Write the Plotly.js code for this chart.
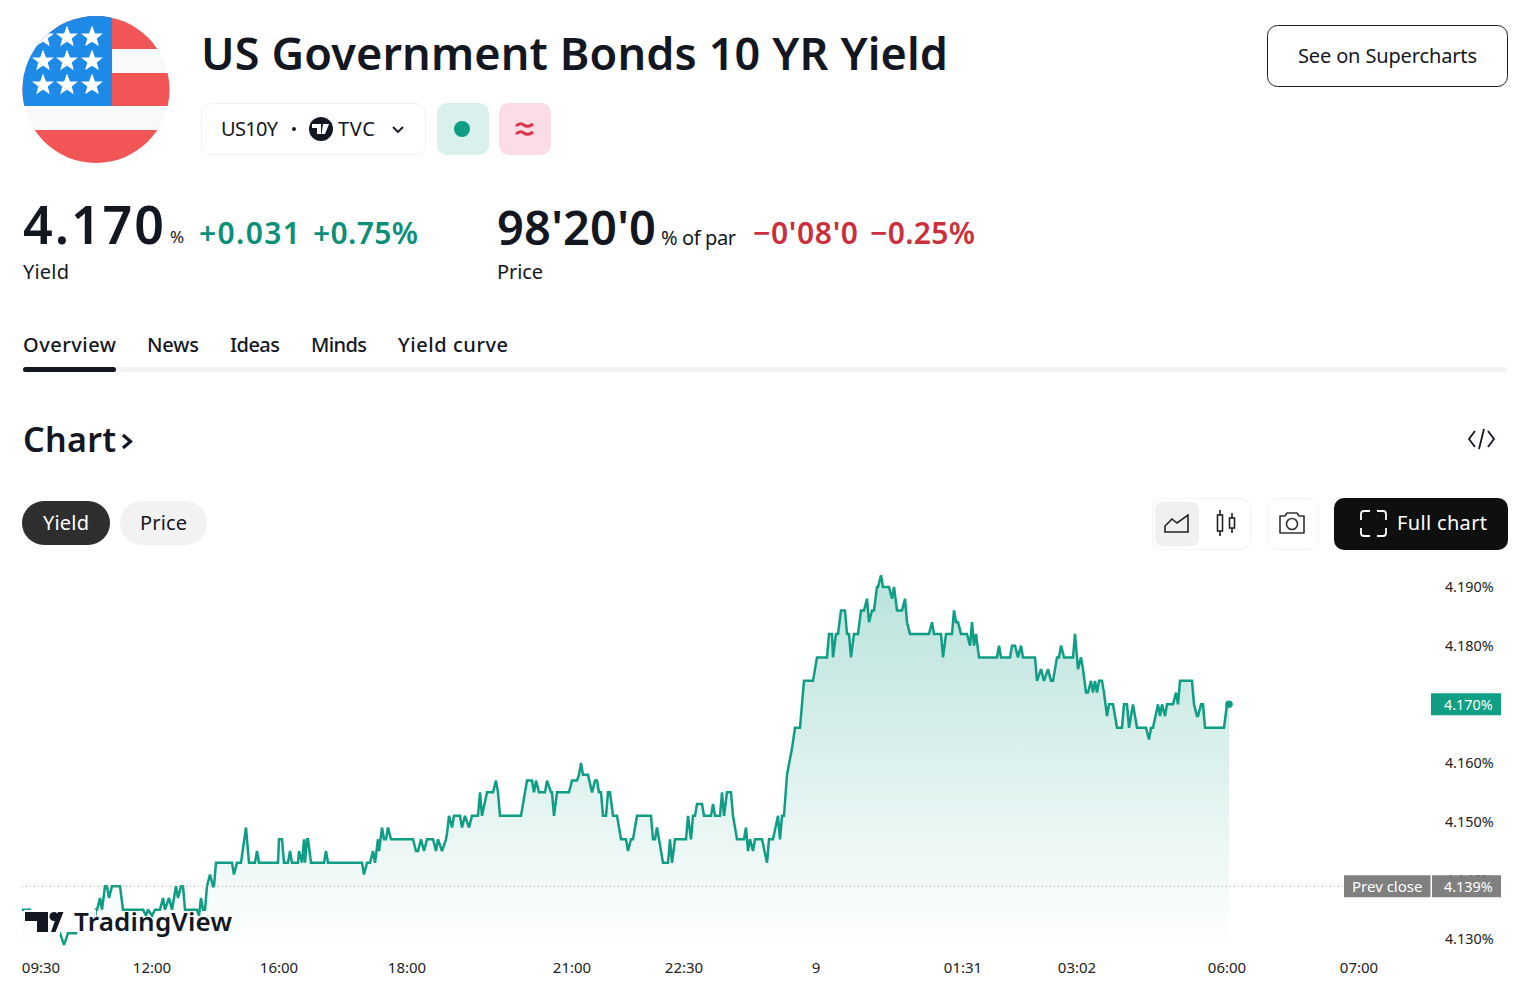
<!DOCTYPE html>
<html>
<head>
<meta charset="utf-8">
<script src="https://cdn.plot.ly/plotly-3.0.1.min.js"></script>
<style>
html,body{margin:0;padding:0;background:#fff;width:1536px;height:988px;overflow:hidden}
#chart{position:absolute;left:0;top:0;width:1536px;height:988px}
#page{position:absolute;left:0;top:0;pointer-events:none}
#page text{font-family:"Noto Sans",sans-serif;fill:#131722}
</style>
</head>
<body>
<div id="chart"></div>
<svg id="page" width="1536" height="988" viewBox="0 0 1536 988" xmlns="http://www.w3.org/2000/svg">
  <defs><clipPath id="flagClip"><circle cx="96" cy="89.5" r="73.5"/></clipPath>
  <path id="star" d="M0,-11.5 L3,-3.6 L11,-3.6 L4.7,1.4 L6.9,9.3 L0,4.7 L-6.9,9.3 L-4.7,1.4 L-11,-3.6 L-3,-3.6 Z" fill="#fff"/></defs>
  <g clip-path="url(#flagClip)">
    <rect x="20" y="14" width="152" height="152" fill="#f7f9fa"/>
    <rect x="20" y="14" width="152" height="35" fill="#f25555"/>
    <rect x="20" y="73" width="152" height="33" fill="#f25555"/>
    <rect x="20" y="130" width="152" height="36" fill="#f25555"/>
    <rect x="20" y="14" width="92" height="92" fill="#1e8ae8"/>
    <use href="#star" x="43" y="37"/><use href="#star" x="67" y="37"/><use href="#star" x="92" y="37"/>
    <use href="#star" x="43" y="61"/><use href="#star" x="67" y="61"/><use href="#star" x="92" y="61"/>
    <use href="#star" x="43" y="85"/><use href="#star" x="67" y="85"/><use href="#star" x="92" y="85"/>
  </g>
  <text x="201" y="70" font-size="45" font-weight="600" textLength="747" lengthAdjust="spacing">US Government Bonds 10 YR Yield</text>

  <rect x="201.5" y="103.5" width="224" height="51" rx="10" fill="#fff" stroke="#f0f1f2"/>
  <text x="221" y="136" font-size="20" textLength="57" lengthAdjust="spacing">US10Y</text>
  <circle cx="294" cy="129" r="2" fill="#131722"/>
  <circle cx="321" cy="129" r="12" fill="#131722"/>
  <path d="M312,124 h9 v10 h-4 v-6 h-5 z M323,124 h6 l-4,10 h-3.5 z" fill="#fff"/>
  <text x="338" y="136" font-size="20" textLength="37" lengthAdjust="spacing">TVC</text>
  <path d="M393,127 l5,5 l5,-5" fill="none" stroke="#131722" stroke-width="1.8"/>
  <rect x="437" y="103" width="52" height="52" rx="10" fill="#d9f0ec"/>
  <circle cx="462" cy="129" r="8" fill="#0f9d85"/>
  <rect x="499" y="103" width="52" height="52" rx="10" fill="#fcdde5"/>
  <path d="M516,126 q4,-4 8,-1 t9,-1 M516,134 q4,-4 8,-1 t9,-1" fill="none" stroke="#d9354d" stroke-width="3"/>

  <rect x="1267.5" y="25.5" width="240" height="61" rx="10" fill="#fff" stroke="#1e1e1e"/>
  <text x="1298" y="63" font-size="20" textLength="179" lengthAdjust="spacing">See on Supercharts</text>

  <text x="23" y="244" font-size="52" font-weight="600" textLength="141" lengthAdjust="spacing">4.170</text>
  <text x="170" y="243" font-size="17" textLength="12" lengthAdjust="spacing">%</text>
  <text x="199" y="244" font-size="30" font-weight="600" textLength="101" lengthAdjust="spacing" style="fill:#0b8f78">+0.031</text>
  <text x="313" y="244" font-size="30" font-weight="600" textLength="105" lengthAdjust="spacing" style="fill:#0b8f78">+0.75%</text>
  <text x="23" y="279" font-size="20" textLength="46" lengthAdjust="spacing">Yield</text>

  <text x="497" y="245" font-size="47" font-weight="600" textLength="159" lengthAdjust="spacing">98'20'0</text>
  <text x="661" y="245" font-size="20" textLength="75" lengthAdjust="spacing">% of par</text>
  <text x="753" y="244" font-size="30" font-weight="600" textLength="105" lengthAdjust="spacing" style="fill:#cc2f3c">−0'08'0</text>
  <text x="870" y="244" font-size="30" font-weight="600" textLength="105" lengthAdjust="spacing" style="fill:#cc2f3c">−0.25%</text>
  <text x="497" y="279" font-size="20" textLength="46" lengthAdjust="spacing">Price</text>

  <text x="23" y="352" font-size="20" font-weight="500" textLength="93" lengthAdjust="spacing">Overview</text>
  <text x="147" y="352" font-size="20" font-weight="500" textLength="52" lengthAdjust="spacing">News</text>
  <text x="230" y="352" font-size="20" font-weight="500" textLength="50" lengthAdjust="spacing">Ideas</text>
  <text x="311" y="352" font-size="20" font-weight="500" textLength="56" lengthAdjust="spacing">Minds</text>
  <text x="398" y="352" font-size="20" font-weight="500" textLength="110" lengthAdjust="spacing">Yield curve</text>
  <rect x="23" y="367" width="1484" height="5" rx="2.5" fill="#f1f3f4"/>
  <rect x="23" y="367" width="93" height="5" rx="2.5" fill="#131722"/>

  <text x="23" y="452" font-size="34" font-weight="600" textLength="93" lengthAdjust="spacing">Chart</text>
  <path d="M123,435 l7.5,6.5 l-7.5,6.5" fill="none" stroke="#131722" stroke-width="3.2"/>
  <path d="M1475,431 l-6,8 l6,8 M1488,431 l6,8 l-6,8 M1484,429 l-5,20" fill="none" stroke="#131722" stroke-width="1.8"/>

  <rect x="22" y="501" width="88" height="44" rx="22" fill="#2e2e2e"/>
  <text x="43" y="530" font-size="20" textLength="46" lengthAdjust="spacing" style="fill:#fff">Yield</text>
  <rect x="120" y="501" width="87" height="44" rx="22" fill="#f2f2f2"/>
  <text x="140" y="530" font-size="20" textLength="47" lengthAdjust="spacing">Price</text>

  <rect x="1152.5" y="498.5" width="98" height="51" rx="10" fill="#fff" stroke="#f2f3f4"/>
  <rect x="1155" y="502" width="44" height="44" rx="8" fill="#f0f0f0"/>
  <path d="M1165,532 v-6 l7,-7 l5,4 l11,-8 v17 z" fill="none" stroke="#222" stroke-width="1.6"/>
  <path d="M1220,510 v26 M1232,513 v20" stroke="#222" stroke-width="1.6"/>
  <rect x="1217.5" y="515" width="5" height="16" fill="#fff" stroke="#222" stroke-width="1.6"/>
  <rect x="1229.5" y="518" width="5" height="10" fill="#fff" stroke="#222" stroke-width="1.6"/>
  <rect x="1267.5" y="498.5" width="51" height="51" rx="10" fill="#fff" stroke="#f2f3f4"/>
  <path d="M1280,516 h5 l2,-3 h10 l2,3 h5 v17 h-24 z" fill="none" stroke="#333" stroke-width="1.6" stroke-linejoin="round"/>
  <circle cx="1292" cy="524" r="5.5" fill="none" stroke="#333" stroke-width="1.6"/>
  <rect x="1334" y="498" width="174" height="52" rx="10" fill="#0f0f0f"/>
  <path d="M1370,511 h-6 a3,3 0 0 0 -3,3 v6 M1377,511 h6 a3,3 0 0 1 3,3 v6 M1370,536 h-6 a3,3 0 0 1 -3,-3 v-5 M1377,536 h6 a3,3 0 0 0 3,-3 v-5" fill="none" stroke="#fff" stroke-width="1.8"/>
  <text x="1397" y="530" font-size="20" textLength="90" lengthAdjust="spacing" style="fill:#fff">Full chart</text>

  <rect x="24" y="910" width="72" height="21" fill="#fff"/>
  <rect x="31" y="931" width="29" height="4" fill="#fff"/>
  <rect x="77" y="931" width="19" height="4" fill="#fff"/>
  <path d="M25,912 h23 v20 h-11 v-11 h-12 z" fill="#131722"/>
  <circle cx="54" cy="916.5" r="4.5" fill="#131722"/>
  <path d="M51,932 l7,-20 h5.5 l-8,20 z" fill="#131722"/>
  <text x="74" y="931" font-size="26" font-weight="600" textLength="158" lengthAdjust="spacing">TradingView</text>
</svg>
<script>
// Bar index along the session and the yield (%) at that bar
var bars = [
0,8,11,38,42,46,71,74,75,78,80,83,85,87,90,98,101,121,124,126,130,133,138,141,143,147,150,154,156,159,161,163,175,177,179,181,183,185,188,191,192,194,
210,212,215,219,224,227,233,235,237,256,257,260,262,266,268,270,276,277,280,282,283,285,286,289,302,304,306,340,342,345,348,351,353,356,357,360,362,364,366,369,
391,394,396,399,402,405,411,414,416,420,424,425,427,430,432,438,440,443,447,450,456,458,460,465,471,474,476,478,
499,505,510,512,514,517,523,525,529,530,532,535,547,550,555,557,559,561,566,570,573,575,577,579,581,584,586,588,591,595,599,604,606,609,611,615,629,631,633,635,641,646,648,650,653,664,666,669,671,673,675,680,682,689,691,693,698,700,702,705,709,711,715,722,724,726,728,731,733,740,745,747,751,756,758,760,762,765,
770,773,778,782,791,795,805,807,810,811,814,816,819,823,825,827,829,832,836,839,842,845,847,850,852,855,856,859,861,867,870,872,875,880,883,885,888,907,910,912,919,921,924,930,932,934,936,939,945,948,950,952,954,957,975,977,979,988,990,993,996,999,1001,1013,1015,1019,1022,1026,1029,1031,1035,1037,1039,1042,1051,1053,1056,1059,1061,1064,1066,1069,1071,1073,1075,1077,1080,1082,1085,1087,1091,1095,1100,1102,1105,1107,1111,1115,1124,1127,1129,1131,1136,1138,1140,1143,1145,1151,1154,1156,1158,1170,1172,1175,1176,1179,1181,1183,1202,1205,1207
];
var yields = [
4.135,4.135,4.131,4.131,4.129,4.131,4.131,4.135,4.135,4.137,4.135,4.139,4.139,4.137,4.139,4.139,4.135,4.135,4.134,4.135,4.134,4.135,4.135,4.137,4.135,4.137,4.135,4.139,4.137,4.139,4.139,4.135,4.135,4.134,4.137,4.135,4.135,4.139,4.141,4.139,4.139,4.143,
4.143,4.141,4.143,4.143,4.149,4.143,4.143,4.145,4.143,4.143,4.147,4.147,4.143,4.143,4.145,4.143,4.143,4.145,4.143,4.147,4.143,4.147,4.147,4.143,4.143,4.145,4.143,4.143,4.141,4.143,4.143,4.145,4.143,4.147,4.145,4.149,4.147,4.147,4.149,4.147,
4.147,4.145,4.145,4.147,4.145,4.147,4.147,4.145,4.147,4.145,4.147,4.148,4.151,4.149,4.151,4.151,4.149,4.151,4.149,4.151,4.151,4.155,4.151,4.155,4.155,4.157,4.155,4.151,
4.151,4.157,4.157,4.155,4.157,4.155,4.155,4.157,4.155,4.155,4.151,4.155,4.155,4.157,4.157,4.158,4.160,4.158,4.158,4.155,4.157,4.157,4.155,4.155,4.151,4.151,4.155,4.155,4.151,4.151,4.147,4.147,4.145,4.147,4.147,4.151,4.151,4.147,4.147,4.149,4.143,4.143,4.147,4.143,4.147,4.147,4.151,4.147,4.151,4.151,4.153,4.153,4.151,4.151,4.153,4.151,4.151,4.155,4.151,4.155,4.155,4.151,4.147,4.147,4.149,4.145,4.147,4.145,4.147,4.147,4.143,4.147,4.147,4.151,4.147,4.151,4.151,4.158,
4.1625,4.166,4.166,4.174,4.174,4.178,4.178,4.182,4.182,4.178,4.182,4.182,4.186,4.186,4.182,4.182,4.178,4.182,4.182,4.186,4.186,4.188,4.184,4.186,4.186,4.190,4.190,4.192,4.190,4.190,4.188,4.190,4.186,4.186,4.188,4.184,4.182,4.182,4.184,4.182,4.182,4.178,4.182,4.182,4.186,4.184,4.184,4.182,4.182,4.180,4.184,4.180,4.182,4.178,4.178,4.180,4.178,4.178,4.180,4.180,4.178,4.180,4.178,4.178,4.174,4.176,4.174,4.176,4.174,4.174,4.178,4.178,4.180,4.178,4.178,4.182,4.176,4.178,4.176,4.172,4.172,4.174,4.172,4.174,4.172,4.174,4.174,4.172,4.168,4.170,4.170,4.166,4.166,4.170,4.170,4.166,4.170,4.166,4.166,4.164,4.166,4.166,4.170,4.168,4.170,4.168,4.170,4.170,4.172,4.170,4.174,4.174,4.170,4.168,4.168,4.170,4.170,4.166,4.166,4.170,4.170
];
var xTickVals = [19,130,257,385,550,662,794,941,1055,1205,1337];
var xTickText = ['09:30','12:00','16:00','18:00','21:00','22:30','9','01:31','03:02','06:00','07:00'];
var yTickVals = [4.13,4.14,4.15,4.16,4.18,4.19];
var prevClose = 4.139;
var lastYield = 4.170;
var lineColor = '#0f9d85';
var font = '"Noto Sans",sans-serif';
var W = 1536, L = 22, R = 96;
function px(p){ return (p - L) / (W - L - R); }
function pill(x0, x1, y, color){
  return { type: 'rect', layer: 'above', xref: 'paper', x0: px(x0), x1: px(x1), yref: 'y', ysizemode: 'pixel', yanchor: y,
    y0: -11, y1: 11, fillcolor: color, line: {width: 0} };
}
function pillText(x, y, text, size){
  return { xref: 'paper', xanchor: 'center', x: px(x), yref: 'y', yanchor: 'middle', y: y, text: text, showarrow: false,
    font: {family: font, size: size, color: '#fff'} };
}

var traces = [
  { x: bars, y: yields, mode: 'lines', line: {color: lineColor, width: 2.5, shape: 'linear'},
    fill: 'tozeroy',
    fillgradient: {type: 'vertical', start: 4.192, stop: 4.128,
      colorscale: [[0, 'rgba(8,153,129,0.28)'], [1, 'rgba(8,153,129,0)']]},
    hoverinfo: 'skip', showlegend: false },
  { x: [bars[bars.length - 1]], y: [yields[yields.length - 1]], mode: 'markers',
    marker: {size: 7.5, color: lineColor}, hoverinfo: 'skip', showlegend: false }
];
var layout = {
  width: W, height: 988,
  margin: {l: L, r: R, t: 560, b: 38, pad: 0},
  paper_bgcolor: 'rgba(0,0,0,0)', plot_bgcolor: 'rgba(0,0,0,0)',
  showlegend: false,
  xaxis: { range: [0, W - L - R], tickmode: 'array', tickvals: xTickVals, ticktext: xTickText,
    showgrid: false, zeroline: false, showline: false, ticks: 'outside', ticklen: 4, tickcolor: 'rgba(0,0,0,0)',
    tickfont: {family: font, size: 15, color: '#222'} },
  yaxis: { side: 'right', range: [4.12813, 4.1946], tickmode: 'array', tickvals: yTickVals,
    ticktext: yTickVals.map(function(v){ return v.toFixed(3) + '%'; }),
    showgrid: false, zeroline: false, showline: false, ticks: 'outside', ticklen: 1, tickcolor: 'rgba(0,0,0,0)',
    tickfont: {family: font, size: 14.4, color: '#222'} },
  shapes: [
    { type: 'line', xref: 'paper', x0: 0, x1: px(1344), yref: 'y', y0: prevClose, y1: prevClose,
      line: {color: '#aaa', width: 1, dash: '1px,3px'} },
    pill(1431, 1501, lastYield, '#109f85'),
    pill(1344, 1430.5, prevClose, '#808080'),
    pill(1432, 1501, prevClose, '#808080')
  ],
  annotations: [
    pillText(1468.5, lastYield, lastYield.toFixed(3) + '%', 14.4),
    pillText(1386.5, prevClose, 'Prev close', 15),
    pillText(1468.5, prevClose, prevClose.toFixed(3) + '%', 14.4)
  ]
};
Plotly.newPlot('chart', traces, layout, {staticPlot: true, displayModeBar: false});
</script>
</body>
</html>
